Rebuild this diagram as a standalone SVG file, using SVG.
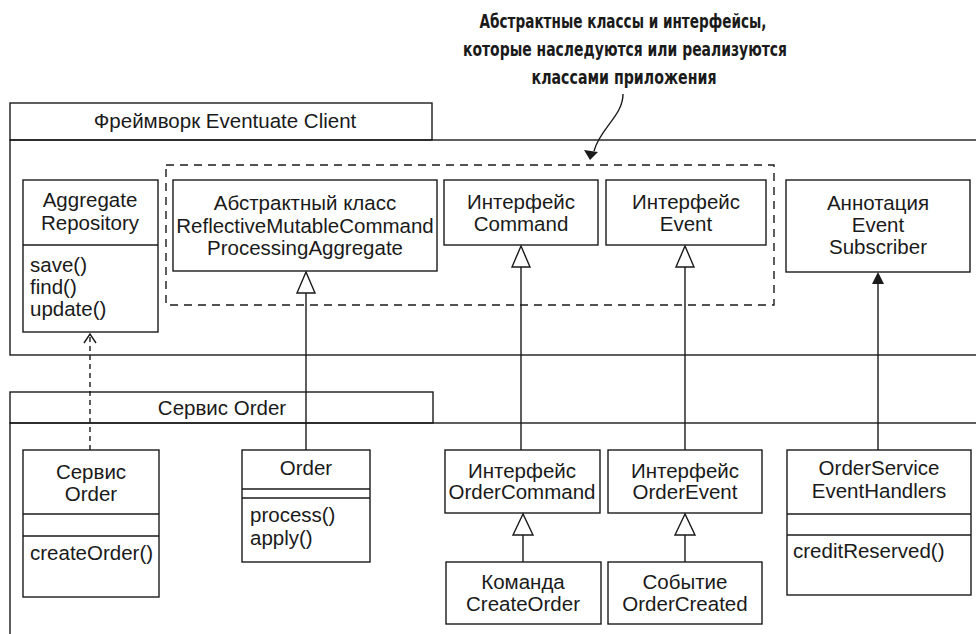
<svg xmlns="http://www.w3.org/2000/svg" width="976" height="634" viewBox="0 0 976 634">
<style>
  .box { fill: #fff; stroke: #1a1a1a; stroke-width: 1.4; }
  .pkg { fill: none; stroke: #1a1a1a; stroke-width: 1.4; }
  .ln { fill: none; stroke: #1a1a1a; stroke-width: 1.4; }
  .dash { fill: none; stroke: #1a1a1a; stroke-width: 1.4; stroke-dasharray: 8 6; }
  .dep { fill: none; stroke: #1a1a1a; stroke-width: 1.4; stroke-dasharray: 5 4; }
  .t { font-family: "Liberation Sans", Arial, sans-serif; font-size: 20.5px; fill: #1a1a1a; }
  .c { text-anchor: middle; }
  .note { font-family: "Liberation Sans Narrow", "DejaVu Sans Condensed", "Roboto Condensed", "Liberation Sans", sans-serif; font-weight: bold; font-size: 20px; fill: #1a1a1a; text-anchor: middle; }
  .tri { fill: #fff; stroke: #1a1a1a; stroke-width: 1.4; }
  .solid { fill: #1a1a1a; stroke: none; }
</style>
<rect width="976" height="634" fill="#fff"/>

<g id="annotation">
  <text class="note" x="623" y="28" textLength="287" lengthAdjust="spacingAndGlyphs">Абстрактные классы и интерфейсы,</text>
  <text class="note" x="625" y="56" textLength="324" lengthAdjust="spacingAndGlyphs">которые наследуются или реализуются</text>
  <text class="note" x="624" y="84" textLength="185" lengthAdjust="spacingAndGlyphs">классами приложения</text>
</g>

<g id="pkg-framework">
  <rect class="pkg" x="10" y="103" width="422" height="37"/>
  <rect class="pkg" x="10" y="140" width="990" height="215"/>
  <text class="t c" x="225" y="128">Фреймворк Eventuate Client</text>
</g>

<g id="pkg-order">
  <rect class="pkg" x="10" y="392" width="423" height="31"/>
  <rect class="pkg" x="10" y="423" width="990" height="260"/>
  <text class="t c" x="222" y="415">Сервис Order</text>
</g>

<g id="abstract-group">
  <rect class="dash" x="166" y="165" width="608" height="140"/>
</g>

<g id="aggregate-repository">
  <rect class="box" x="23" y="180" width="135" height="152"/>
  <line class="ln" x1="23" y1="245" x2="158" y2="245"/>
  <text class="t c" x="90" y="207">Aggregate</text>
  <text class="t c" x="90" y="230">Repository</text>
  <text class="t" x="30" y="272">save()</text>
  <text class="t" x="30" y="294">find()</text>
  <text class="t" x="30" y="316">update()</text>
</g>

<g id="abstract-class">
  <rect class="box" x="173" y="180" width="264" height="91"/>
  <text class="t c" x="305" y="210">Абстрактный класс</text>
  <text class="t c" x="305" y="233">ReflectiveMutableCommand</text>
  <text class="t c" x="305" y="255">ProcessingAggregate</text>
</g>

<g id="command">
  <rect class="box" x="444" y="180" width="154" height="65"/>
  <text class="t c" x="521" y="209">Интерфейс</text>
  <text class="t c" x="521" y="231">Command</text>
</g>

<g id="event">
  <rect class="box" x="606" y="180" width="160" height="65"/>
  <text class="t c" x="686" y="209">Интерфейс</text>
  <text class="t c" x="686" y="231">Event</text>
</g>

<g id="event-subscriber">
  <rect class="box" x="786" y="180" width="184" height="92"/>
  <text class="t c" x="878" y="210">Аннотация</text>
  <text class="t c" x="878" y="232">Event</text>
  <text class="t c" x="878" y="254">Subscriber</text>
</g>

<g id="order-service">
  <rect class="box" x="23" y="450" width="136" height="147"/>
  <line class="ln" x1="23" y1="514" x2="159" y2="514"/>
  <line class="ln" x1="23" y1="536" x2="159" y2="536"/>
  <text class="t c" x="91" y="479">Сервис</text>
  <text class="t c" x="91" y="501">Order</text>
  <text class="t" x="30" y="560">createOrder()</text>
</g>

<g id="order">
  <rect class="box" x="242" y="450" width="128" height="112"/>
  <line class="ln" x1="242" y1="489" x2="370" y2="489"/>
  <line class="ln" x1="242" y1="498" x2="370" y2="498"/>
  <text class="t c" x="306" y="475">Order</text>
  <text class="t" x="250" y="522">process()</text>
  <text class="t" x="250" y="545">apply()</text>
</g>

<g id="order-command">
  <rect class="box" x="445" y="450" width="155" height="63"/>
  <text class="t c" x="522" y="478">Интерфейс</text>
  <text class="t c" x="522" y="499">OrderCommand</text>
</g>

<g id="order-event">
  <rect class="box" x="608" y="450" width="154" height="63"/>
  <text class="t c" x="685" y="478">Интерфейс</text>
  <text class="t c" x="685" y="499">OrderEvent</text>
</g>

<g id="create-order">
  <rect class="box" x="446" y="562" width="155" height="62"/>
  <text class="t c" x="523" y="589">Команда</text>
  <text class="t c" x="523" y="611">CreateOrder</text>
</g>

<g id="order-created">
  <rect class="box" x="608" y="562" width="154" height="62"/>
  <text class="t c" x="685" y="589">Событие</text>
  <text class="t c" x="685" y="611">OrderCreated</text>
</g>

<g id="event-handlers">
  <rect class="box" x="787" y="450" width="184" height="145"/>
  <line class="ln" x1="787" y1="514" x2="971" y2="514"/>
  <line class="ln" x1="787" y1="535" x2="971" y2="535"/>
  <text class="t c" x="879" y="475">OrderService</text>
  <text class="t c" x="879" y="498">EventHandlers</text>
  <text class="t" x="793" y="558">creditReserved()</text>
</g>

<g id="connectors">
  <!-- annotation pointer -->
  <path class="ln" d="M623,94 C623,116 600,128 594,151"/>
  <polygon class="solid" points="590,160 584,150 598,152"/>
  <!-- service -> repository (dependency) -->
  <line class="dep" x1="90" y1="450" x2="90" y2="336"/>
  <polyline class="ln" points="84,343 90,334 96,343"/>
  <!-- Order -> abstract class -->
  <line class="ln" x1="306" y1="450" x2="306" y2="293"/>
  <polygon class="tri" points="306,272 297,293 315,293"/>
  <!-- OrderCommand -> Command -->
  <line class="ln" x1="521" y1="450" x2="521" y2="267"/>
  <polygon class="tri" points="521,246 512,267 530,267"/>
  <!-- OrderEvent -> Event -->
  <line class="ln" x1="685" y1="450" x2="685" y2="267"/>
  <polygon class="tri" points="685,246 676,267 694,267"/>
  <!-- CreateOrder -> OrderCommand -->
  <line class="ln" x1="523" y1="562" x2="523" y2="535"/>
  <polygon class="tri" points="523,514 513,535 533,535"/>
  <!-- OrderCreated -> OrderEvent -->
  <line class="ln" x1="685" y1="562" x2="685" y2="535"/>
  <polygon class="tri" points="685,514 675,535 695,535"/>
  <!-- handlers -> annotation -->
  <line class="ln" x1="878" y1="450" x2="878" y2="283"/>
  <polygon class="solid" points="878,272 872,284 884,284"/>
</g>
</svg>
